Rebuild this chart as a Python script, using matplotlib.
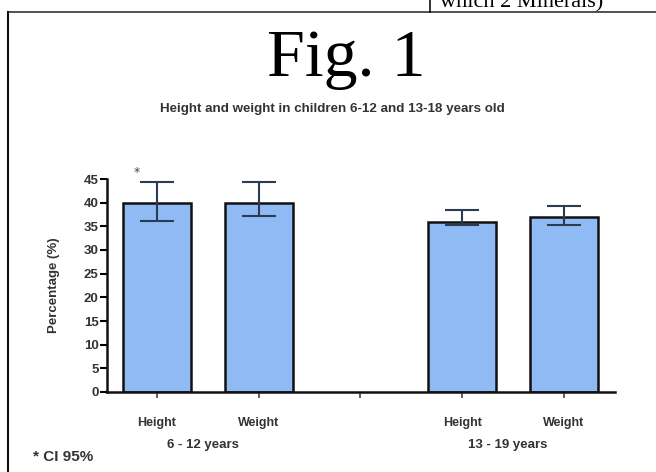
import numpy as np
import matplotlib
matplotlib.use("Agg")
from matplotlib import pyplot as plt
from matplotlib.lines import Line2D

# data
labels = ["Height", "Weight", "", "Height", "Weight"]
groups = ["6 - 12 years", "13 - 19 years"]
means = [40.0, 40.0, np.nan, 36.0, 37.0]
ci_low = [36.2, 37.2, np.nan, 35.3, 35.3]
ci_high = [44.4, 44.3, np.nan, 38.5, 39.3]

W, H = 656, 472
fig = plt.figure(figsize=(W / 100, H / 100), dpi=100)
fig.patch.set_facecolor("white")

sans = "Liberation Sans"
serif = "Liberation Serif"
txt = "#333333"
wt = "bold"

# pixel -> figure fraction
def px(x, y):
    return x / W, 1 - y / H

# page frame bits around the figure
fig.add_artist(Line2D([px(8, 0)[0], 1.0], [px(0, 12)[1]] * 2, color="#333333", lw=1.2))
fig.add_artist(Line2D([px(8, 0)[0]] * 2, [px(0, 12)[1], 0.0], color="#111111", lw=1.5))
fig.add_artist(Line2D([px(430, 0)[0]] * 2, [1.0, px(0, 12)[1]], color="#111111", lw=1.2))
fig.text(px(440, 0)[0], px(0, 3)[1], "which 2 Minerals)", family=serif, fontsize=16,
         ha="left", va="center")

fig.text(px(346, 0)[0], px(0, 76)[1], "Fig. 1", family=serif, fontsize=49,
         ha="center", va="baseline")
fig.text(px(332, 0)[0], px(0, 109)[1], "Height and weight in children 6-12 and 13-18 years old",
         family=sans, fontsize=9.6, fontweight=wt, ha="center", va="center", color=txt)

l, r = 107 / W, 615 / W
b, t = 1 - 392 / H, 1 - 179 / H
ax = fig.add_axes([l, b, r - l, t - b])

x = np.arange(len(labels))
m = np.array(means)
lo = m - np.array(ci_low)
hi = np.array(ci_high) - m
ok = ~np.isnan(m)

ax.bar(x[ok], m[ok], width=0.67, color="#8fbaf3", edgecolor="#111111", linewidth=1.8, zorder=2)
ax.errorbar(x[ok], m[ok], yerr=[lo[ok], hi[ok]], fmt="none", ecolor="#2c3a52",
            elinewidth=1.5, capsize=12, capthick=1.5, zorder=3, clip_on=False)

ax.set_xlim(-0.49, 4.5)
ax.set_ylim(0, 45)
ax.set_yticks(range(0, 46, 5))
ax.set_xticks(x)
ax.set_xticklabels(labels)

for s in ["top", "right"]:
    ax.spines[s].set_visible(False)
for s in ["left", "bottom"]:
    ax.spines[s].set_linewidth(1.8)
    ax.spines[s].set_color("#111111")

ax.tick_params(axis="y", direction="out", length=5, width=1.5, labelsize=9.5, pad=1)
ax.tick_params(axis="x", direction="out", length=4, width=1.2, color="#444444",
               labelsize=9, pad=14)
for lab in ax.get_xticklabels() + ax.get_yticklabels():
    lab.set_family(sans)
    lab.set_color(txt)
    lab.set_fontweight(wt)

ax.set_ylabel("Percentage (%)", family=sans, fontsize=9.5, fontweight=wt, color=txt,
              labelpad=17)

# group labels under the pairs
for i, g in enumerate(groups):
    gx = (x[3 * i] + x[3 * i + 1]) / 2.0 - 0.05
    ax.text(gx, -0.25, g, transform=ax.get_xaxis_transform(), ha="center", va="center",
            family=sans, fontsize=9.5, fontweight=wt, color=txt)

ax.text(-0.2, 46.3, "*", ha="center", va="center", fontsize=9, color="#444444", clip_on=False)
fig.text(px(33, 0)[0], px(0, 457)[1], "* CI 95%", family=sans, fontsize=11,
         fontweight=wt, ha="left", va="center", color=txt)

fig.savefig("out.png", dpi=100)
